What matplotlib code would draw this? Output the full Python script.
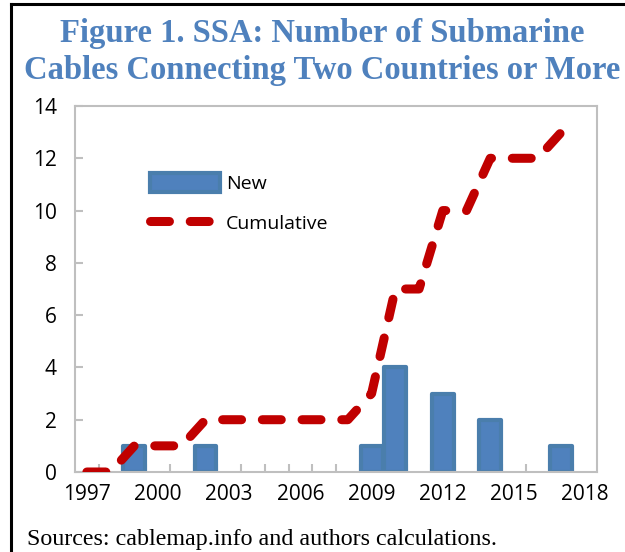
import numpy as np
import matplotlib
matplotlib.use("Agg")
import matplotlib.pyplot as plt
from matplotlib.lines import Line2D

# data
years = list(range(1997, 2019))
new_cables = [0, 0, 1, 0, 0, 1, 0, 0, 0, 0, 0, 0, 1, 4, 0, 3, 0, 2, 0, 0, 1, 0]
cum_years = list(range(1997, 2018))
cumulative = [0, 0, 1, 1, 1, 2, 2, 2, 2, 2, 2, 2, 3, 7, 7, 10, 10, 12, 12, 12, 13]
label_years = [1997, 2000, 2003, 2006, 2009, 2012, 2015, 2018]

title = "Figure 1. SSA: Number of Submarine\nCables Connecting Two Countries or More"
source = "Sources: cablemap.info and authors calculations."

bar_face = "#4f81bd"
bar_edge = "#4a7eac"
line_red = "#c00000"
axis_gray = "#bfbfbf"
sans = ["Open Sans", "DejaVu Sans"]
serif = ["Liberation Serif", "DejaVu Serif"]

fig = plt.figure(figsize=(6.25, 5.52), dpi=100)
ax = fig.add_axes([75 / 625, 80 / 552, 522 / 625, 366 / 552])

yrs = np.array(years)
nc = np.array(new_cables)
mask = nc > 0
bars = ax.bar(yrs[mask], nc[mask], width=0.92, color=bar_face, edgecolor=bar_edge,
              linewidth=3, joinstyle="round", label="New", zorder=2)

ln, = ax.plot(cum_years, cumulative, color=line_red, linewidth=6.5,
              solid_capstyle="round", dash_capstyle="round",
              label="Cumulative", zorder=3)
ln.set_dashes((2.1, 2.3))

ax.set_xlim(1996.5, 2018.5)
ax.set_ylim(0, 14)
ax.set_yticks(range(0, 15, 2))
ax.set_xticks(label_years)
ax.set_xticks(np.arange(1997.5, 2018.5, 1), minor=True)
ax.tick_params(axis="x", which="major", length=0, pad=9)
ax.tick_params(axis="x", which="minor", length=6, direction="in",
               color=axis_gray, width=1.5)
ax.tick_params(axis="y", length=6, direction="in", color=axis_gray,
               width=1.5, pad=13)
for lab in ax.get_xticklabels() + ax.get_yticklabels():
    lab.set_family(sans)
    lab.set_fontsize(15)
for s in ax.spines.values():
    s.set_color(axis_gray)
    s.set_linewidth(1.5)

leg = ax.legend(handles=[bars, ln], loc="upper left", bbox_to_anchor=(0.11, 0.865),
                frameon=False, prop={"family": sans, "size": 14},
                handlelength=3.6, handleheight=1.1, handletextpad=0.3,
                labelspacing=1.05)

fig.text(0.516, 0.968, title, ha="center", va="top", family=serif,
         fontweight="bold", fontsize=23.5, color=bar_face, linespacing=1.25)
fig.text(27 / 625, 12 / 552, source, ha="left", va="center", family=serif,
         fontsize=17.3)

# black frame on the top and left edge
fig.add_artist(Line2D([11 / 625, 11 / 625], [0, 1 - 4 / 552],
                      transform=fig.transFigure, color="black", linewidth=2.2))
fig.add_artist(Line2D([11 / 625, 1], [1 - 4 / 552, 1 - 4 / 552],
                      transform=fig.transFigure, color="black", linewidth=2.2))

fig.savefig("out.png", dpi=100)
